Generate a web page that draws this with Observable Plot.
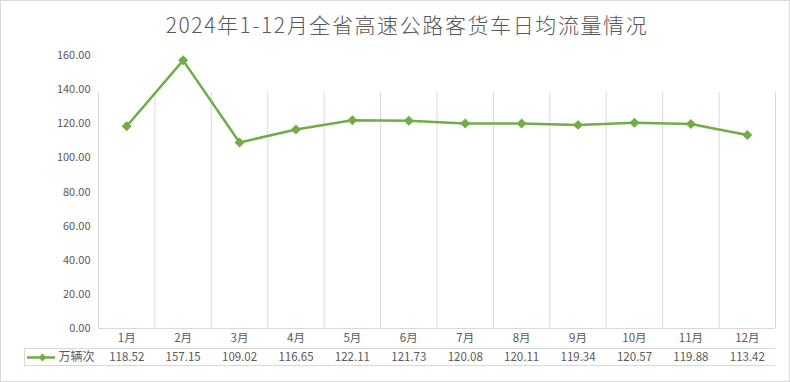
<!DOCTYPE html>
<html>
<head>
<meta charset="utf-8">
<script src="https://cdn.jsdelivr.net/npm/d3@7"></script>
<script src="https://cdn.jsdelivr.net/npm/@observablehq/plot@0.6"></script>
<style>
  html, body { margin: 0; padding: 0; background: #fff; }
  #wrap { position: relative; width: 790px; height: 382px; box-sizing: border-box; border: 1px solid #d9d9d9; background: #fff; overflow: hidden; }
  #title { height: 46px; line-height: 46px; box-sizing: border-box; padding-left: 24px; text-align: center;
           font-family: "Noto Sans CJK SC", "Noto Sans", sans-serif; font-weight: 300; font-size: 21px; letter-spacing: 1.6px; color: #595959; }
  #chart svg { display: block; }
</style>
</head>
<body>
<div id="wrap">
  <div id="title">2024年1-12月全省高速公路客货车日均流量情况</div>
  <div id="chart"></div>
</div>
<script>
const months = ["1月","2月","3月","4月","5月","6月","7月","8月","9月","10月","11月","12月"];
const values = [118.52, 157.15, 109.02, 116.65, 122.11, 121.73, 120.08, 120.11, 119.34, 120.57, 119.88, 113.42];
const seriesName = "万辆次";
const yTicks = [0, 20, 40, 60, 80, 100, 120, 140, 160];

const data = months.map((m, i) => ({month: m, idx: i + 1, value: values[i]}));
const bounds = d3.range(0, months.length + 1).map(i => i + 0.5);
const green = "#70AD47";
const grid = "#d9d9d9";
const txt = "#595959";
const font = "'Noto Sans CJK SC', 'Liberation Sans', sans-serif";

const chart = Plot.plot({
  width: 788,
  height: 334,
  marginTop: 8,
  marginBottom: 53,
  marginLeft: 97,
  marginRight: 14,
  style: {fontFamily: font, fontSize: "11px", color: txt, background: "#fff"},
  x: {domain: [0.5, months.length + 0.5], axis: null},
  y: {domain: [0, 160], ticks: yTicks, tickFormat: d => d.toFixed(2), tickSize: 0, tickPadding: 8, label: null},
  marks: [
    Plot.ruleX(bounds, {x: d => d, y1: 0, y2: 160, insetBottom: -37, stroke: grid, strokeWidth: 1}),
    Plot.ruleY([0], {x1: 0.5, x2: months.length + 0.5, stroke: grid}),
    Plot.ruleY([0], {x1: 0.5, x2: months.length + 0.5, dy: 20, insetLeft: -74, stroke: grid}),
    Plot.ruleY([0], {x1: 0.5, x2: months.length + 0.5, dy: 37, insetLeft: -74, stroke: grid}),
    Plot.ruleX([0.5], {y1: 0, y2: 0, dx: -74, insetTop: 20, insetBottom: -37, stroke: grid}),
    Plot.text(data, {x: "idx", y: 0, dy: 10, text: "month", fill: txt, fontSize: 11.5}),
    Plot.text(data, {x: "idx", y: 0, dy: 29, text: d => d.value.toFixed(2), fill: txt, fontSize: 11.5}),
    Plot.ruleY([0], {x1: 0.5, x2: 0.5, dy: 29, insetLeft: -71, insetRight: 43, stroke: green, strokeWidth: 2.5}),
    Plot.dot([0], {x: () => 0.5, y: () => 0, dx: -56, dy: 29, symbol: "diamond2", r: 3.5, fill: green, stroke: "none"}),
    Plot.text([seriesName], {x: () => 0.5, y: () => 0, dx: -4, dy: 29, text: d => d, textAnchor: "end", fill: txt, fontSize: 12}),
    Plot.line(data, {x: "idx", y: "value", stroke: green, strokeWidth: 2.5}),
    Plot.dot(data, {x: "idx", y: "value", symbol: "diamond2", r: 4.5, fill: green, stroke: "none"})
  ]
});
document.getElementById("chart").append(chart);
</script>
</body>
</html>
